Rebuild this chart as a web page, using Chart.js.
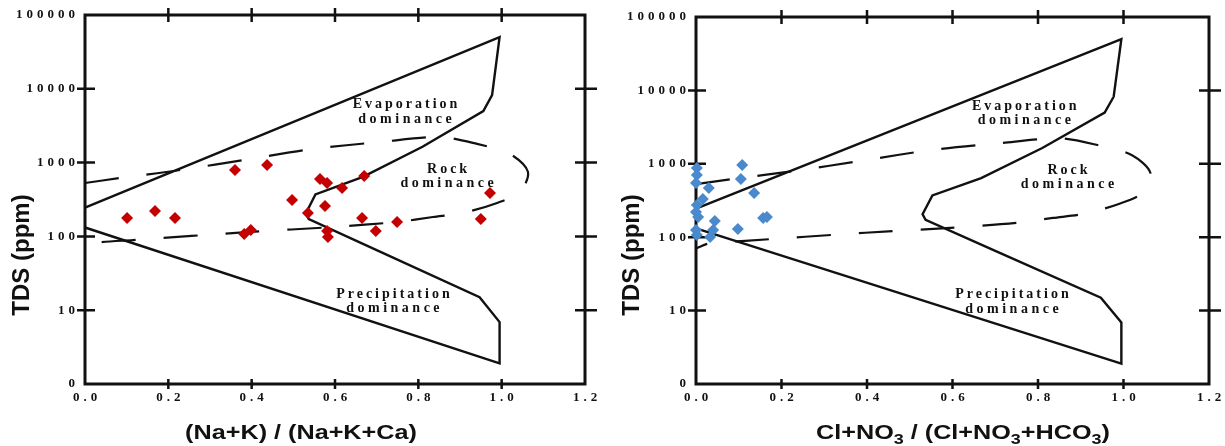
<!DOCTYPE html>
<html>
<head>
<meta charset="utf-8">
<title>Gibbs diagrams</title>
<script src="https://cdn.jsdelivr.net/npm/chart.js@4.4.1/dist/chart.umd.min.js"></script>
<style>
  body { margin: 0; background: #fff; }
  .panel { position: absolute; top: 0; }
</style>
</head>
<body>
<div class="panel" style="left:0"><canvas id="cationChart" width="612" height="446"></canvas></div>
<div class="panel" style="left:612px"><canvas id="anionChart" width="613" height="446"></canvas></div>
<script>
// axis ticks (TDS axis is logarithmic, bottom label reads "0")
const xTicks = [0, 0.2, 0.4, 0.6, 0.8, 1.0, 1.2];
const xTickLabels = ['0.0', '0.2', '0.4', '0.6', '0.8', '1.0', '1.2'];
const yTicks = [1, 10, 100, 1000, 10000, 100000];
const yTickLabels = ['0', '10', '100', '1000', '10000', '100000'];

// samples: (Na+K)/(Na+K+Ca) vs TDS
const cationRatio = [0.101, 0.168, 0.216, 0.360, 0.437, 0.497, 0.382, 0.398, 0.564, 0.581, 0.617,
                     0.670, 0.576, 0.535, 0.665, 0.698, 0.749, 0.581, 0.583, 0.950, 0.972];
const cationTDS = [177, 221, 177, 794, 928, 311, 108, 122, 600, 529, 453,
                   658, 258, 208, 178, 118, 157, 118, 98, 172, 387];

// samples: (Cl+NO3)/(Cl+NO3+HCO3) vs TDS
const anionRatio = [0.108, 0.105, 0.002, 0.002, 0.000, 0.030, 0.016, 0.136, 0.002, 0.000,
                    0.005, 0.044, 0.157, 0.166, 0.098, 0.000, 0.002, 0.040, 0.033];
const anionTDS = [963, 621, 877, 704, 548, 468, 332, 400, 275, 220,
                  188, 166, 183, 189, 129, 125, 107, 125, 101];

// Gibbs boomerang outline (solid)
const boundaryX = [0, 0.995, 0.977, 0.956, 0.81, 0.667, 0.553, 0.53, 0.537, 0.70, 0.947, 0.995, 0.995, 0];
const boundaryTDS = [245, 50000, 8200, 5000, 1640, 640, 370, 205, 172, 65, 15, 6.9, 1.9, 132];

// rock dominance envelope (dashed)
const rockX = [0, 0.084, 0.228, 0.396, 0.547, 0.708, 0.852, 0.941, 1.02, 1.063, 1.044, 0.989,
               0.907, 0.835, 0.749, 0.595, 0.396, 0.115, 0.03, 0];
const rockTDS = [529, 618, 794, 1120, 1530, 1900, 2220, 1790, 1310, 750, 400, 284,
                 208, 183, 157, 134, 115, 89, 82, 70];

const regionLabels = [
  { lines: ['Evaporation', 'dominance'], ratio: 0.768, tds: 4920 },
  { lines: ['Rock', 'dominance'], ratio: 0.869, tds: 658 },
  { lines: ['Precipitation', 'dominance'], ratio: 0.739, tds: 13.3 }
];

const cationTitle = [['(Na+K) / (Na+K+Ca)', 0]];
const anionTitle = [['Cl+NO', 0], ['3', 1], [' / (Cl+NO', 0], ['3', 1], ['+HCO', 0], ['3', 1], [')', 0]];

const INK = '#111';

function spaced(ctx, str, x, y, align, ls) {
  ctx.letterSpacing = ls + 'px';
  const w = ctx.measureText(str).width - ls;
  const sx = align === 'center' ? x - w / 2 : align === 'right' ? x - w : x;
  ctx.textAlign = 'left';
  ctx.fillText(str, sx, y);
  ctx.letterSpacing = '0px';
}

function drawTitle(ctx, parts, cx, cy, stretch) {
  const fonts = ['bold 21px "Liberation Sans"', 'bold 15px "Liberation Sans"'];
  let w = 0;
  parts.forEach(([t, sub]) => { ctx.font = fonts[sub]; w += ctx.measureText(t).width; });
  ctx.save();
  ctx.translate(cx, cy);
  ctx.scale(stretch, 1);
  ctx.textAlign = 'left';
  ctx.textBaseline = 'alphabetic';
  let px = -w / 2;
  parts.forEach(([t, sub]) => {
    ctx.font = fonts[sub];
    ctx.fillText(t, px, sub ? 12.5 : 7.5);
    px += ctx.measureText(t).width;
  });
  ctx.restore();
}

// frame, crossing tick marks, labels and titles
const gibbsFrame = {
  id: 'gibbsFrame',
  beforeDatasetsDraw(chart, args, opts) {
    const { ctx, chartArea: a } = chart;
    const x = chart.scales.x, y = chart.scales.y;
    ctx.save();
    ctx.strokeStyle = INK;
    ctx.lineWidth = 3;
    ctx.strokeRect(a.left, a.top, a.right - a.left, a.bottom - a.top);

    ctx.lineWidth = 2.5;
    ctx.beginPath();
    xTicks.slice(1, -1).forEach(v => {
      const px = x.getPixelForValue(v);
      ctx.moveTo(px, a.top - 7); ctx.lineTo(px, a.top + 7);
      ctx.moveTo(px, a.bottom - 5); ctx.lineTo(px, a.bottom + 5);
    });
    yTicks.slice(1, -1).forEach(v => {
      const py = y.getPixelForValue(v);
      ctx.moveTo(a.left - 8, py); ctx.lineTo(a.left + 10, py);
      ctx.moveTo(a.right - 10, py); ctx.lineTo(a.right + 12, py);
    });
    ctx.stroke();

    ctx.fillStyle = INK;
    ctx.textBaseline = 'middle';
    ctx.font = 'bold 13px "Liberation Serif"';
    xTicks.forEach((v, i) => spaced(ctx, xTickLabels[i], x.getPixelForValue(v), a.bottom + 14, 'center', 4));
    yTicks.forEach((v, i) => spaced(ctx, yTickLabels[i], a.left - 10, y.getPixelForValue(v), 'right', 4));

    ctx.font = 'bold 14px "Liberation Serif"';
    regionLabels.forEach(r => {
      const cx = x.getPixelForValue(r.ratio), cy = y.getPixelForValue(r.tds);
      spaced(ctx, r.lines[0], cx, cy - 7, 'center', 3);
      spaced(ctx, r.lines[1], cx, cy + 7.5, 'center', 3.5);
    });

    drawTitle(ctx, opts.xTitle, opts.xTitleAt, 431, 1.2);

    ctx.save();
    ctx.translate(opts.yTitleAt, 255);
    ctx.rotate(-Math.PI / 2);
    ctx.font = 'bold 24px "Liberation Sans"';
    ctx.textAlign = 'center';
    ctx.textBaseline = 'middle';
    ctx.fillText('TDS (ppm)', 0, 0);
    ctx.restore();

    ctx.restore();
  }
};

function pairs(xs, ys) {
  return xs.map((v, i) => ({ x: v, y: ys[i] }));
}

function makeChart(id, ratio, tds, color, title, titleAt, yTitleAt, padding) {
  return new Chart(document.getElementById(id), {
    type: 'scatter',
    data: {
      datasets: [
        {
          label: 'Samples',
          data: pairs(ratio, tds),
          pointStyle: 'rectRot',
          pointRadius: 6,
          backgroundColor: color,
          borderColor: color,
          borderWidth: 0,
          clip: false,
          order: 0
        },
        {
          label: 'Boundary',
          data: pairs(boundaryX, boundaryTDS),
          showLine: true,
          borderColor: INK,
          borderWidth: 2.4,
          pointRadius: 0,
          tension: 0,
          clip: false,
          order: 1
        },
        {
          label: 'Rock dominance',
          data: pairs(rockX, rockTDS),
          showLine: true,
          borderColor: INK,
          borderWidth: 2.2,
          borderDash: [34, 28],
          pointRadius: 0,
          tension: 0.3,
          clip: false,
          order: 2
        }
      ]
    },
    options: {
      responsive: false,
      animation: false,
      layout: { padding },
      scales: {
        x: { type: 'linear', min: 0, max: 1.2, display: false },
        y: { type: 'logarithmic', min: 1, max: 100000, display: false }
      },
      plugins: {
        legend: { display: false },
        tooltip: { enabled: false },
        gibbsFrame: { xTitle: title, xTitleAt: titleAt, yTitleAt: yTitleAt }
      }
    },
    plugins: [gibbsFrame]
  });
}

makeChart('cationChart', cationRatio, cationTDS, '#c40000', cationTitle, 301, 22,
  { left: 85, right: 27, top: 15, bottom: 62 });
makeChart('anionChart', anionRatio, anionTDS, '#4a89cc', anionTitle, 351, 20,
  { left: 84, right: 16, top: 17, bottom: 62 });
</script>
</body>
</html>
